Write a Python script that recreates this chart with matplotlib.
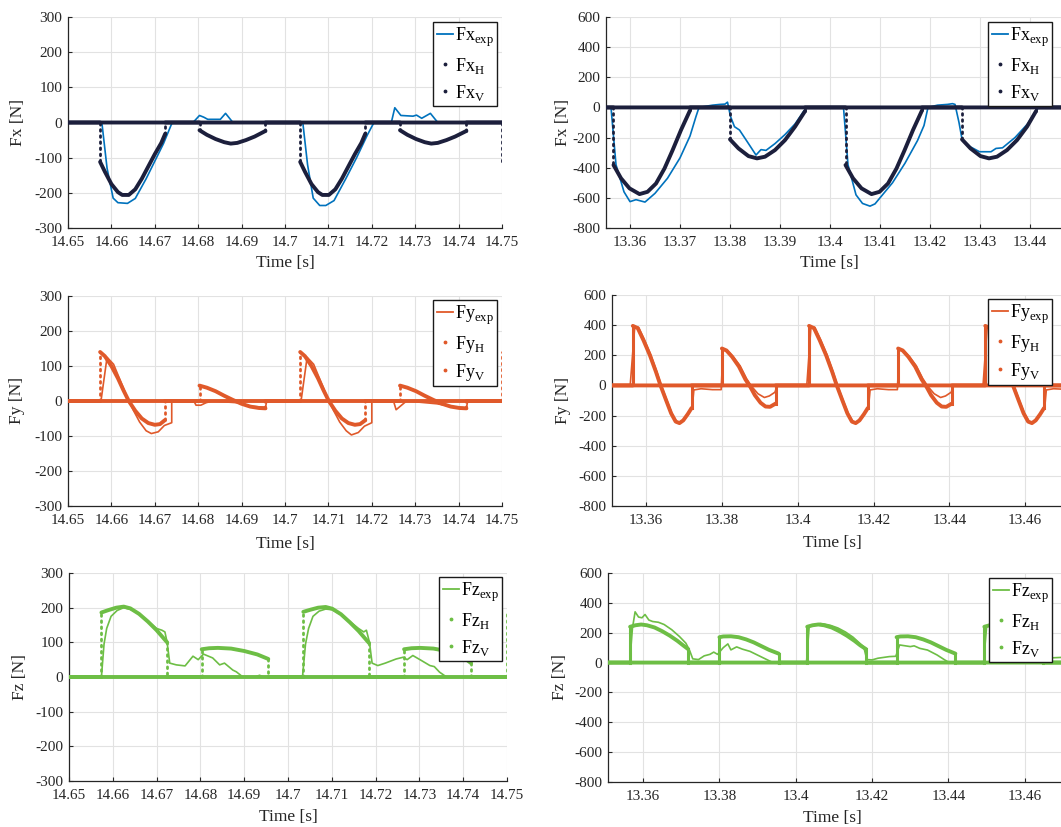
import matplotlib
matplotlib.use('Agg')
import matplotlib.pyplot as plt
from matplotlib.lines import Line2D
import numpy as np

plt.rcParams['font.family'] = ['Liberation Serif', 'DejaVu Serif']
plt.rcParams['mathtext.fontset'] = 'custom'
plt.rcParams['mathtext.rm'] = 'Liberation Serif'
plt.rcParams['axes.unicode_minus'] = False

# ---------------- left run (14.65 - 14.75 s) ----------------
fx_l_exp_t = [14.650, 14.6578, 14.6590, 14.6604, 14.6615, 14.6637, 14.6655, 14.6680, 14.6700, 14.6720, 14.6740,
              14.6788, 14.6803, 14.6813, 14.6822, 14.6851, 14.6863, 14.6880, 14.7041,
              14.7052, 14.7065, 14.7080, 14.7094, 14.7113, 14.7140, 14.7165, 14.7190, 14.7205,
              14.7245, 14.7253, 14.7267, 14.7295, 14.7303, 14.7315, 14.7335, 14.7352, 14.750]
fx_l_exp_f = [0, 0, -130, -215, -228, -230, -216, -160, -110, -60, 0,
              0, 20, 15, 9, 9, 26, 0, 0,
              -120, -215, -236, -236, -222, -160, -100, -35, 0,
              0, 42, 20, 18, 21, 12, 26, 0, 0]
fx_l_h_t = [14.650, 14.6574, 14.6574, 14.6585, 14.6600, 14.6615, 14.6625, 14.6640, 14.6655, 14.6670, 14.6685, 14.6700, 14.6715, 14.6724, 14.6724,
            14.7035, 14.7035, 14.7046, 14.7061, 14.7076, 14.7086, 14.7101, 14.7116, 14.7131, 14.7146, 14.7161, 14.7176, 14.7185, 14.7185,
            14.750, 14.750]
fx_l_h_f = [0, 0, -112, -140, -175, -198, -206, -206, -190, -160, -125, -90, -58, -32, 0,
            0, -112, -140, -175, -198, -206, -206, -190, -160, -125, -90, -58, -32, 0,
            0, -115]
fx_l_v_t = [14.650, 14.6803, 14.6803, 14.6820, 14.6840, 14.6860, 14.6875, 14.6890, 14.6910, 14.6930, 14.6955, 14.6955,
            14.7265, 14.7265, 14.7282, 14.7302, 14.7322, 14.7337, 14.7352, 14.7372, 14.7392, 14.7418, 14.7418, 14.750]
fx_l_v_f = [0, 0, -22, -35, -47, -56, -60, -58, -50, -40, -24, 0,
            0, -22, -35, -47, -56, -60, -58, -50, -40, -24, 0, 0]

fy_l_exp_t = [14.650, 14.6576, 14.6590, 14.6605, 14.6620, 14.6635, 14.6650, 14.6665, 14.6680, 14.6692, 14.6708, 14.6722, 14.6739, 14.6739,
              14.6790, 14.6795, 14.6806, 14.6818, 14.6832, 14.6890, 14.6920, 14.6955, 14.6958,
              14.7037, 14.7051, 14.7066, 14.7081, 14.7096, 14.7111, 14.7126, 14.7141, 14.7153, 14.7169, 14.7183, 14.7200, 14.7200,
              14.7250, 14.7256, 14.7280, 14.7350, 14.7385, 14.7418, 14.7421, 14.750]
fy_l_exp_f = [0, 0, 125, 105, 60, 15, -25, -60, -85, -93, -88, -70, -62, 0,
              0, -12, -12, -5, 0, -5, -15, -18, 0,
              0, 125, 105, 60, 15, -25, -60, -85, -97, -90, -72, -62, 0,
              0, -25, 0, -8, -16, -20, 0, 0]
fy_l_h_t = [14.650, 14.6574, 14.6574, 14.6585, 14.6600, 14.6615, 14.6628, 14.6640, 14.6655, 14.6670, 14.6685, 14.6700, 14.6712, 14.6723, 14.6723,
            14.7035, 14.7035, 14.7046, 14.7061, 14.7076, 14.7089, 14.7101, 14.7116, 14.7131, 14.7146, 14.7161, 14.7173, 14.7185, 14.7185,
            14.750, 14.750]
fy_l_h_f = [0, 0, 140, 128, 100, 65, 30, 0, -28, -50, -63, -68, -66, -55, 0,
            0, 140, 128, 100, 65, 30, 0, -28, -50, -63, -68, -66, -55, 0,
            0, 140]
fy_l_v_t = [14.650, 14.6803, 14.6803, 14.6820, 14.6840, 14.6860, 14.6880, 14.6900, 14.6920, 14.6940, 14.6955, 14.6955,
            14.7265, 14.7265, 14.7282, 14.7302, 14.7322, 14.7342, 14.7362, 14.7382, 14.7402, 14.7418, 14.7418, 14.750]
fy_l_v_f = [0, 0, 44, 38, 28, 15, 3, -8, -16, -20, -21, 0,
            0, 44, 38, 28, 15, 3, -8, -16, -20, -21, 0, 0]

fz_l_exp_t = [14.650, 14.6574, 14.6580, 14.6586, 14.6596, 14.6610, 14.6625, 14.6640, 14.6660, 14.6680, 14.6700, 14.6712, 14.6719, 14.6724, 14.6730,
              14.6745, 14.6765, 14.6783, 14.6795, 14.6807, 14.6828, 14.6844, 14.6855, 14.6874, 14.6882, 14.6897, 14.6925, 14.6935, 14.6945,
              14.7033, 14.7040, 14.7047, 14.7057, 14.7071, 14.7086, 14.7101, 14.7121, 14.7141, 14.7161, 14.7173, 14.7179, 14.7186, 14.7192,
              14.7205, 14.7222, 14.7247, 14.7263, 14.7272, 14.7285, 14.7304, 14.7324, 14.7334, 14.7346, 14.7362, 14.750]
fz_l_exp_f = [0, 0, 95, 140, 175, 192, 200, 195, 182, 162, 140, 135, 130, 100, 40,
              35, 32, 60, 50, 66, 55, 35, 40, 20, 15, 0, 0, 5, 0,
              0, 95, 140, 175, 190, 196, 194, 180, 160, 140, 130, 135, 100, 40,
              33, 40, 52, 57, 50, 62, 48, 33, 30, 14, 0, 0]
fz_l_h_t = [14.650, 14.6574, 14.6574, 14.6590, 14.6608, 14.6625, 14.6640, 14.6660, 14.6680, 14.6700, 14.6724, 14.6724,
            14.7035, 14.7035, 14.7051, 14.7069, 14.7086, 14.7101, 14.7121, 14.7141, 14.7161, 14.7185, 14.7185,
            14.750, 14.750]
fz_l_h_f = [0, 0, 186, 193, 200, 203, 198, 182, 160, 135, 100, 0,
            0, 188, 194, 200, 202, 197, 181, 158, 133, 98, 0,
            0, 190]
fz_l_v_t = [14.650, 14.6803, 14.6803, 14.6820, 14.6840, 14.6870, 14.6900, 14.6930, 14.6955, 14.6955,
            14.7265, 14.7265, 14.7282, 14.7302, 14.7332, 14.7362, 14.7392, 14.7418, 14.7418, 14.750]
fz_l_v_f = [0, 0, 80, 83, 84, 82, 75, 65, 52, 0,
            0, 80, 83, 84, 82, 75, 65, 40, 0, 0]

# ---------------- right run (13.35 - 13.47 s) ----------------
fx_r_exp_t = [13.3552, 13.3562, 13.3572, 13.3588, 13.3600, 13.3612, 13.3630, 13.3650, 13.3675, 13.3700, 13.3720, 13.3732, 13.3738,
              13.3765, 13.3780, 13.3790, 13.3795, 13.3801, 13.3809, 13.3819, 13.3835, 13.3852, 13.3862, 13.3872, 13.3890, 13.3910, 13.3930, 13.3949, 13.3955,
              13.4027, 13.4036, 13.4052, 13.4065, 13.4080, 13.4090, 13.4100, 13.4125, 13.4150, 13.4175, 13.4188, 13.4196,
              13.4215, 13.4235, 13.4245, 13.4250, 13.4258, 13.4264, 13.4280, 13.4299, 13.4322, 13.4332, 13.4345, 13.4370, 13.4395, 13.4412, 13.4418, 13.4466]
fx_r_exp_f = [0, 0, -380, -560, -625, -612, -628, -570, -470, -335, -190, -60, 0,
              15, 20, 22, 35, -60, -128, -150, -230, -316, -280, -285, -240, -180, -110, -18, 0,
              0, -380, -580, -637, -655, -640, -600, -500, -370, -220, -120, 0,
              15, 20, 25, 20, -100, -210, -260, -294, -294, -272, -268, -200, -110, -20, 0, 0]
fx_r_h_t = [13.3552, 13.3567, 13.3567, 13.3582, 13.3599, 13.3619, 13.3635, 13.3652, 13.3669, 13.3685, 13.3702, 13.3720, 13.3720,
            13.4031, 13.4031, 13.4046, 13.4063, 13.4083, 13.4099, 13.4116, 13.4133, 13.4149, 13.4166, 13.4184, 13.4184, 13.4466]
fx_r_h_f = [0, 0, -382, -470, -537, -575, -560, -505, -405, -285, -150, -20, 0,
            0, -382, -470, -537, -575, -560, -505, -405, -285, -150, -20, 0, 0]
fx_r_v_t = [13.3552, 13.3800, 13.3800, 13.3817, 13.3837, 13.3854, 13.3870, 13.3890, 13.3910, 13.3930, 13.3950, 13.3950,
            13.4264, 13.4264, 13.4281, 13.4301, 13.4318, 13.4334, 13.4354, 13.4374, 13.4394, 13.4412, 13.4412, 13.4466]
fx_r_v_f = [0, 0, -212, -272, -323, -338, -327, -283, -217, -128, -25, 0,
            0, -212, -272, -323, -338, -327, -283, -217, -128, -25, 0, 0]

fy_r_exp_t = [13.351, 13.3558, 13.3570, 13.3580, 13.3595, 13.3612, 13.3628, 13.3640, 13.3655, 13.3668, 13.3680, 13.3690, 13.3700, 13.3712, 13.3722, 13.3726, 13.3745, 13.3775, 13.3798,
              13.3803, 13.3815, 13.3830, 13.3848, 13.3865, 13.3878, 13.3895, 13.3912, 13.3925, 13.3940, 13.3946, 13.4024,
              13.4035, 13.4045, 13.4060, 13.4077, 13.4093, 13.4105, 13.4120, 13.4133, 13.4145, 13.4155, 13.4165, 13.4177, 13.4187, 13.4191, 13.4210, 13.4240, 13.4263,
              13.4268, 13.4280, 13.4295, 13.4313, 13.4330, 13.4343, 13.4360, 13.4377, 13.4390, 13.4405, 13.4411, 13.4489,
              13.4500, 13.4510, 13.4525, 13.4542, 13.4558, 13.4570, 13.4585, 13.4598, 13.4610, 13.4620, 13.4630, 13.4642, 13.4652, 13.4656, 13.4675, 13.470]
fy_r_exp_f = [0, 0, 390, 385, 305, 205, 92, 0, -100, -185, -238, -248, -230, -185, -140, -30, -22, -28, -28,
              240, 230, 190, 130, 45, -5, -55, -80, -70, -45, 0, 0,
              390, 385, 305, 205, 92, 0, -100, -185, -238, -248, -230, -185, -140, -30, -22, -28, -28,
              240, 230, 190, 130, 45, -5, -55, -80, -70, -45, 0, 0,
              390, 385, 305, 205, 92, 0, -100, -185, -238, -248, -230, -185, -140, -30, -22, -25]
fy_r_h_t = [13.351, 13.3565, 13.3565, 13.3578, 13.3593, 13.3610, 13.3626, 13.3638, 13.3653, 13.3666, 13.3678, 13.3688, 13.3698, 13.3710, 13.3720, 13.3720,
            13.4030, 13.4030, 13.4043, 13.4058, 13.4075, 13.4091, 13.4103, 13.4118, 13.4131, 13.4143, 13.4153, 13.4163, 13.4175, 13.4185, 13.4185,
            13.4495, 13.4495, 13.4508, 13.4523, 13.4540, 13.4556, 13.4568, 13.4583, 13.4596, 13.4608, 13.4618, 13.4628, 13.4640, 13.4650, 13.4650, 13.470]
fy_r_h_f = [0, 0, 395, 380, 300, 200, 90, 0, -100, -185, -240, -250, -232, -190, -150, 0,
            0, 395, 380, 300, 200, 90, 0, -100, -185, -240, -250, -232, -190, -150, 0,
            0, 395, 380, 300, 200, 90, 0, -100, -185, -240, -250, -232, -190, -150, 0, 0]
fy_r_v_t = [13.351, 13.3800, 13.3800, 13.3812, 13.3827, 13.3845, 13.3862, 13.3875, 13.3887, 13.3902, 13.3915, 13.3927, 13.3942, 13.3942,
            13.4265, 13.4265, 13.4277, 13.4292, 13.4310, 13.4327, 13.4340, 13.4352, 13.4367, 13.4380, 13.4392, 13.4407, 13.4407, 13.470]
fy_r_v_f = [0, 0, 245, 232, 190, 125, 40, -10, -65, -115, -140, -142, -120, 0,
            0, 245, 232, 190, 125, 40, -10, -65, -115, -140, -142, -120, 0, 0]

fz_r_exp_t = [13.3508, 13.3565, 13.3572, 13.3579, 13.3588, 13.3597, 13.3605, 13.3615, 13.3625, 13.3640, 13.3655, 13.3675, 13.3695, 13.3712, 13.3722, 13.3730,
              13.3745, 13.3760, 13.3775, 13.3785, 13.3795, 13.3810, 13.3822, 13.3830, 13.3845, 13.3860, 13.3880, 13.3900, 13.3920, 13.3940,
              13.4028, 13.4035, 13.4050, 13.4065, 13.4075, 13.4090, 13.4110, 13.4130, 13.4150, 13.4165, 13.4178, 13.4186,
              13.4200, 13.4215, 13.4245, 13.4262, 13.4272, 13.4300, 13.4310, 13.4325, 13.4345, 13.4370, 13.4390, 13.4402,
              13.4492, 13.4500, 13.4515, 13.4530, 13.4550, 13.4575, 13.4600, 13.4625, 13.4645, 13.4655, 13.470]
fz_r_exp_f = [0, 0, 230, 340, 305, 300, 322, 285, 275, 270, 255, 220, 175, 130, 80, 25,
              20, 45, 55, 70, 55, 100, 125, 85, 105, 90, 75, 50, 25, 0,
              0, 240, 255, 262, 258, 250, 232, 205, 170, 135, 105, 20,
              18, 29, 40, 42, 118, 107, 112, 95, 84, 51, 18, 0,
              0, 245, 258, 255, 240, 210, 170, 125, 80, 30, 35]
fz_r_h_t = [13.3508, 13.3566, 13.3566, 13.3580, 13.3595, 13.3610, 13.3630, 13.3650, 13.3670, 13.3690, 13.3705, 13.3718, 13.3718,
            13.4030, 13.4030, 13.4044, 13.4059, 13.4074, 13.4094, 13.4114, 13.4134, 13.4154, 13.4169, 13.4184, 13.4184,
            13.4494, 13.4494, 13.4508, 13.4523, 13.4538, 13.4558, 13.4578, 13.4598, 13.4618, 13.4633, 13.4648, 13.4648, 13.470]
fz_r_h_f = [0, 0, 240, 250, 255, 250, 235, 210, 180, 145, 115, 90, 0,
            0, 240, 250, 255, 250, 235, 210, 180, 145, 115, 90, 0,
            0, 240, 250, 255, 250, 235, 210, 180, 145, 115, 90, 0, 0]
fz_r_v_t = [13.3508, 13.3800, 13.3800, 13.3810, 13.3830, 13.3850, 13.3870, 13.3890, 13.3910, 13.3930, 13.3955, 13.3955,
            13.4264, 13.4264, 13.4274, 13.4294, 13.4314, 13.4334, 13.4354, 13.4374, 13.4394, 13.4418, 13.4418, 13.470]
fz_r_v_f = [0, 0, 170, 175, 176, 170, 155, 135, 110, 85, 60, 0,
            0, 170, 175, 176, 170, 155, 135, 110, 85, 60, 0, 0]

# ticks
left_xticks = [14.65, 14.66, 14.67, 14.68, 14.69, 14.70, 14.71, 14.72, 14.73, 14.74, 14.75]
right_top_xticks = [13.36, 13.37, 13.38, 13.39, 13.40, 13.41, 13.42, 13.43, 13.44]
right_xticks = [13.36, 13.38, 13.40, 13.42, 13.44, 13.46]
left_yticks = [-300, -200, -100, 0, 100, 200, 300]
right_yticks = [-800, -600, -400, -200, 0, 200, 400, 600]

BLUE = '#0072BD'
NAVY = '#1c1f3c'
ORANGE = '#E0592A'
GREEN = '#6DBE45'

W, H = 1061, 827
fig = plt.figure(figsize=(W / 100, H / 100), dpi=100)


def split_model(t, f):
    # break the model trace at its instant jumps (contact on / off)
    ct, cf, jt, jf = [t[0]], [f[0]], [], []
    for i in range(1, len(t)):
        if t[i] == t[i - 1]:
            jt += [t[i - 1], t[i], np.nan]
            jf += [f[i - 1], f[i], np.nan]
            ct.append(np.nan)
            cf.append(np.nan)
        ct.append(t[i])
        cf.append(f[i])
    return ct, cf, jt, jf


def panel(box, comp, exp_color, mod_color, exp_t, exp_f, h_t, h_f, v_t, v_f,
          xlim, xticks, ylim, yticks, ylab_x, xlab_x, xlab_y, leg_right, leg_top,
          solid_jumps=False):
    left, right, top, bottom = box
    ax = fig.add_axes([left / W, 1 - bottom / H, (right - left) / W, (bottom - top) / H])

    ax.plot(exp_t, exp_f, color=exp_color, lw=1.2, zorder=3)

    for t, f in [(h_t, h_f), (v_t, v_f)]:
        ct, cf, jt, jf = split_model(t, f)
        ax.plot(ct, cf, color=mod_color, lw=2.8, solid_capstyle='round',
                solid_joinstyle='round', zorder=4)
        if solid_jumps:
            ax.plot(jt, jf, color=mod_color, lw=2.2, zorder=4)
        else:
            ax.plot(jt, jf, color=mod_color, lw=2.0, ls=(0, (0.6, 1.6)),
                    dash_capstyle='round', zorder=4)

    ax.set_xlim(*xlim)
    ax.set_ylim(*ylim)
    ax.set_xticks(xticks)
    ax.set_xticklabels([f'{round(v, 4):g}' for v in xticks])
    ax.set_yticks(yticks)
    ax.set_yticklabels([str(v) for v in yticks])
    ax.tick_params(direction='in', length=3, width=0.8, labelsize=11,
                   colors='#262626')
    ax.tick_params(axis='x', pad=6)
    ax.tick_params(axis='y', pad=4)
    ax.grid(True, color='#e2e2e2', lw=0.8)
    ax.set_axisbelow(True)
    for s in ['top', 'right']:
        ax.spines[s].set_visible(False)
    for s in ['left', 'bottom']:
        ax.spines[s].set_color('#262626')
        ax.spines[s].set_linewidth(0.9)

    # label anchors: right edge of the rotated y label, top of the x label
    ax.set_ylabel(comp + ' [N]', fontsize=12.5, color='#262626')
    ax.yaxis.set_label_coords((ylab_x + 8 - left) / (right - left), 0.5)
    ax.set_xlabel('Time [s]', fontsize=12.5, color='#262626')
    ax.xaxis.set_label_coords((xlab_x - left) / (right - left),
                              (bottom - (xlab_y - 8)) / (bottom - top))

    handles = [Line2D([], [], color=exp_color, lw=1.3),
               Line2D([], [], color=mod_color, ls='none', marker='.', ms=3.5),
               Line2D([], [], color=mod_color, ls='none', marker='.', ms=3.5)]
    labels = [comp + r'$_{\mathrm{exp}}$', comp + r'$_{\mathrm{H}}$', comp + r'$_{\mathrm{V}}$']
    leg = ax.legend(handles, labels, loc='upper right',
                    bbox_to_anchor=(leg_right / W, 1 - leg_top / H), bbox_transform=fig.transFigure,
                    fancybox=False, edgecolor='#1a1a1a', framealpha=1, fontsize=13,
                    handlelength=0.9, handletextpad=0.1, labelspacing=0.38, borderpad=0.2,
                    borderaxespad=0)
    leg.get_frame().set_linewidth(1.0)
    leg.set_zorder(10)
    return ax


# left column
panel((68, 502, 17, 228), 'Fx', BLUE, NAVY, fx_l_exp_t, fx_l_exp_f, fx_l_h_t, fx_l_h_f, fx_l_v_t, fx_l_v_f,
      (14.65, 14.75), left_xticks, (-300, 300), left_yticks, 18, 285, 263, 497, 22)
panel((68, 502, 296, 506), 'Fy', ORANGE, ORANGE, fy_l_exp_t, fy_l_exp_f, fy_l_h_t, fy_l_h_f, fy_l_v_t, fy_l_v_f,
      (14.65, 14.75), left_xticks, (-300, 300), left_yticks, 17, 285, 544, 497, 300)
panel((69, 507, 573, 781), 'Fz', GREEN, GREEN, fz_l_exp_t, fz_l_exp_f, fz_l_h_t, fz_l_h_f, fz_l_v_t, fz_l_v_f,
      (14.65, 14.75), left_xticks, (-300, 300), left_yticks, 20, 288, 817, 502, 577)

# right column (runs past the right edge of the sheet)
panel((606, 1063, 17, 228), 'Fx', BLUE, NAVY, fx_r_exp_t, fx_r_exp_f, fx_r_h_t, fx_r_h_f, fx_r_v_t, fx_r_v_f,
      (13.3552, 13.4466), right_top_xticks, (-800, 600), right_yticks, 563, 829, 263, 1052, 22)
panel((612, 1063, 295, 506), 'Fy', ORANGE, ORANGE, fy_r_exp_t, fy_r_exp_f, fy_r_h_t, fy_r_h_f, fy_r_v_t, fy_r_v_f,
      (13.351, 13.47), right_xticks, (-800, 600), right_yticks, 563, 832, 543, 1052, 299, solid_jumps=True)
panel((608, 1063, 573, 782), 'Fz', GREEN, GREEN, fz_r_exp_t, fz_r_exp_f, fz_r_h_t, fz_r_h_f, fz_r_v_t, fz_r_v_f,
      (13.3508, 13.47), right_xticks, (-800, 600), right_yticks, 560, 832, 818, 1052, 578, solid_jumps=True)

fig.savefig('out.png', dpi=100, facecolor='white')
